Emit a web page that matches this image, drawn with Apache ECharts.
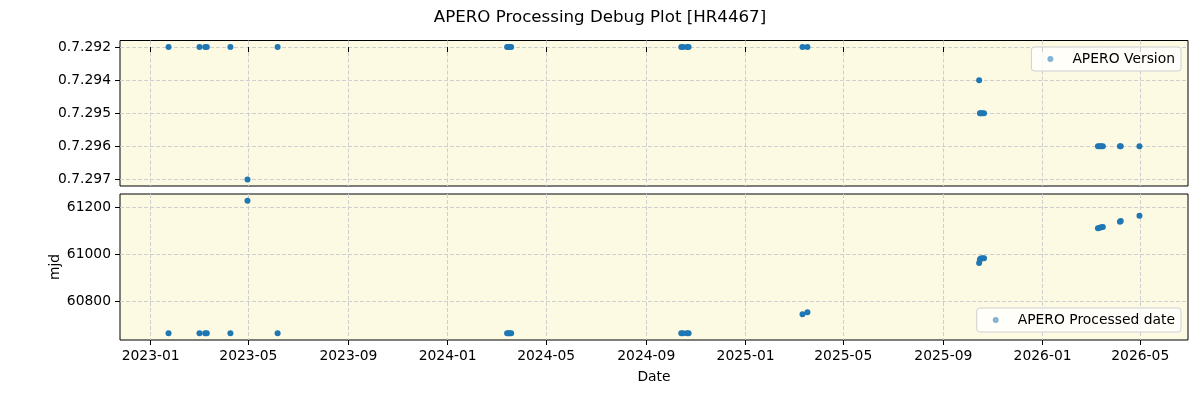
<!DOCTYPE html>
<html>
<head>
<meta charset="utf-8">
<script src="https://cdn.jsdelivr.net/npm/echarts@6/dist/echarts.min.js"></script>
<style>
html,body{margin:0;padding:0;background:#fff;}
#chart{width:1200px;height:400px;}
</style>
</head>
<body>
<div id="chart"></div>
<script>
// ---- data ----
const obsDates = ['2023-01-23','2023-03-02','2023-03-09','2023-03-11','2023-04-09','2023-04-30','2023-06-06',
  '2024-03-14','2024-03-16','2024-03-17','2024-03-19',
  '2024-10-14','2024-10-16','2024-10-21','2024-10-23',
  '2025-03-12','2025-03-18',
  '2025-10-15','2025-10-16','2025-10-17','2025-10-19','2025-10-21',
  '2026-03-10','2026-03-12','2026-03-14','2026-03-16','2026-04-06','2026-04-07','2026-04-30'];
const versions = ['0.7.292','0.7.292','0.7.292','0.7.292','0.7.292','0.7.297','0.7.292',
  '0.7.292','0.7.292','0.7.292','0.7.292',
  '0.7.292','0.7.292','0.7.292','0.7.292',
  '0.7.292','0.7.292',
  '0.7.294','0.7.295','0.7.295','0.7.295','0.7.295',
  '0.7.296','0.7.296','0.7.296','0.7.296','0.7.296','0.7.296','0.7.296'];
const processedMjd = [60662,60662,60662,60662,60662,61230,60662,
  60662,60662,60662,60662,
  60662,60662,60662,60662,
  60744,60752,
  60963,60978,60982,60983,60983,
  61112,61114,61116,61117,61140,61143,61165];
const versionLabels = ['0.7.292','0.7.294','0.7.295','0.7.296','0.7.297'];
const mjdTicks = [60800, 61000, 61200];
const dateTickLabels = ['2023-01','2023-05','2023-09','2024-01','2024-05','2024-09','2025-01','2025-05','2025-09','2026-01','2026-05'];
const titleText = 'APERO Processing Debug Plot [HR4467]';

// ---- build ----
const FONT = 'DejaVu Sans';
const FS = 13.89;
const ts = s => Date.parse(s + 'T00:00:00Z');
const xs = obsDates.map(ts);
const dateTickVals = dateTickLabels.map(l => ts(l + '-01'));
const tickLabelMap = {};
dateTickVals.forEach((v, i) => { tickLabelMap[v] = dateTickLabels[i]; });

function padded(arr) {
  const mn = Math.min(...arr), mx = Math.max(...arr);
  const m = (mx - mn) * 0.05;
  return [mn - m, mx + m];
}
const xr = padded(xs);
const vIdx = versions.map(v => versionLabels.indexOf(v));
const vr = [-0.2, versionLabels.length - 1 + 0.2];
const mr = padded(processedMjd);

const gridLine = { show: true, lineStyle: { color: '#cfcfcf', type: [4, 2], width: 1 } };
const tick = (vals) => ({ show: true, inside: false, length: 5, lineStyle: { color: '#000', width: 1 }, customValues: vals });
const lbl = { color: '#000', fontFamily: FONT, fontSize: FS };
const legendBase = {
  orient: 'vertical', icon: 'circle', itemWidth: 6, itemHeight: 6,
  itemStyle: { opacity: 0.55 },
  padding: [5, 6, 5, 16],
  backgroundColor: 'rgba(255,255,255,0.8)', borderColor: '#d0d0d0', borderWidth: 1, borderRadius: 3,
  textStyle: { fontFamily: FONT, fontSize: FS, color: '#000', padding: [0, 0, 0, 14] }
};

const chart = echarts.init(document.getElementById('chart'), null, { renderer: 'canvas' });
chart.setOption({
  animation: false,
  backgroundColor: '#fff',
  title: {
    text: titleText, left: 'center', top: 4,
    textStyle: { fontFamily: FONT, fontSize: 16.67, fontWeight: 'normal', color: '#000' }
  },
  legend: [
    Object.assign({ data: ['APERO Version'], right: 19, top: 47 }, legendBase),
    Object.assign({ data: ['APERO Processed date'], right: 19, top: 308 }, legendBase)
  ],
  grid: [
    { left: 120, top: 40.5, width: 1068, height: 145.5, show: true, backgroundColor: '#fcfae2', borderColor: '#000', borderWidth: 1, containLabel: false },
    { left: 120, top: 194, width: 1068, height: 146, show: true, backgroundColor: '#fcfae2', borderColor: '#000', borderWidth: 1, containLabel: false }
  ],
  xAxis: [
    {
      type: 'value', gridIndex: 0, min: xr[0], max: xr[1],
      axisLine: { show: false }, axisTick: tick(dateTickVals),
      axisLabel: { show: false, customValues: dateTickVals },
      splitLine: gridLine
    },
    {
      type: 'value', gridIndex: 1, min: xr[0], max: xr[1],
      name: 'Date', nameLocation: 'middle', nameGap: 30, nameMoveOverlap: false,
      nameTextStyle: { fontFamily: FONT, fontSize: FS, color: '#000' },
      axisLine: { show: false }, axisTick: tick(dateTickVals),
      axisLabel: Object.assign({ margin: 9, customValues: dateTickVals, formatter: v => tickLabelMap[v] || '' }, lbl),
      splitLine: gridLine
    }
  ],
  yAxis: [
    {
      type: 'value', gridIndex: 0, min: vr[0], max: vr[1], inverse: true,
      axisLine: { show: false }, axisTick: tick([0, 1, 2, 3, 4]),
      axisLabel: Object.assign({ margin: 9, customValues: [0, 1, 2, 3, 4], formatter: v => versionLabels[Math.round(v)] || '' }, lbl),
      splitLine: gridLine
    },
    {
      type: 'value', gridIndex: 1, min: mr[0], max: mr[1],
      name: 'mjd', nameLocation: 'middle', nameGap: 58, nameMoveOverlap: false,
      nameTextStyle: { fontFamily: FONT, fontSize: FS, color: '#000' },
      axisLine: { show: false }, axisTick: tick(mjdTicks),
      axisLabel: Object.assign({ margin: 9, customValues: mjdTicks, formatter: v => String(v) }, lbl),
      splitLine: gridLine
    }
  ],
  series: [
    {
      name: 'APERO Version', type: 'scatter', xAxisIndex: 0, yAxisIndex: 0,
      symbol: 'circle', symbolSize: 6, itemStyle: { color: '#1f77b4', opacity: 1 },
      data: xs.map((x, i) => [x, vIdx[i]])
    },
    {
      name: 'APERO Processed date', type: 'scatter', xAxisIndex: 1, yAxisIndex: 1,
      symbol: 'circle', symbolSize: 6, itemStyle: { color: '#1f77b4', opacity: 1 },
      data: xs.map((x, i) => [x, processedMjd[i]])
    }
  ]
});
</script>
</body>
</html>
